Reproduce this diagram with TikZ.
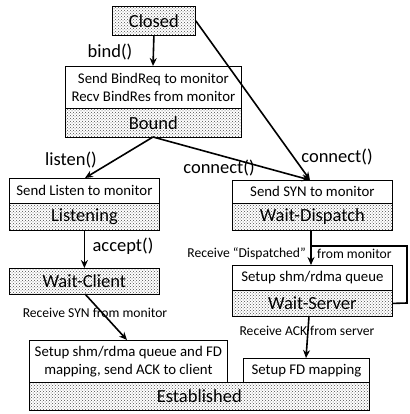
\documentclass[tikz,border=0pt]{standalone}
\usepackage{fontspec}
\setmainfont{Carlito}
\usetikzlibrary{arrows.meta,patterns}
\begin{document}
\begin{tikzpicture}[x=1pt,y=-1pt,
  box/.style={draw=black,line width=0.8pt,rectangle,inner sep=0pt,anchor=north west,align=center},
  txtbox/.style={box,fill=white,font=\fontsize{14.8}{17.5}\selectfont},
  statebox/.style={box,pattern=crosshatch dots,pattern color=black!70,font=\fontsize{18.5}{21}\selectfont},
  arr/.style={line width=1.6pt,-{Stealth[length=8pt,width=7pt]}},
  lnk/.style={line width=1.6pt},
  lbl/.style={font=\fontsize{18.5}{21}\selectfont,inner sep=0pt},
  slbl/.style={font=\fontsize{13.6}{16}\selectfont,inner sep=0pt}]
\useasboundingbox (0,0) rectangle (409,414);
% Closed
\node[statebox,minimum width=83pt,minimum height=29pt] (closed) at (112,6) {Closed};
% Bind box
\node[txtbox,minimum width=176pt,minimum height=42pt] (bindtxt) at (65,66) {Send BindReq to monitor\\Recv BindRes from monitor};
\node[statebox,minimum width=176pt,minimum height=29pt] (bound) at (65,108) {Bound};
% Listen box
\node[txtbox,minimum width=150pt,minimum height=25pt] (listentxt) at (9,178) {Send Listen to monitor};
\node[statebox,minimum width=150pt,minimum height=27pt] (listening) at (9,203) {Listening};
% Wait-Client
\node[statebox,minimum width=150pt,minimum height=26pt] (waitclient) at (9,268) {Wait-Client};
% SYN box
\node[txtbox,minimum width=160pt,minimum height=23pt] (syntxt) at (232,180) {Send SYN to monitor};
\node[statebox,minimum width=160pt,minimum height=27pt] (waitdispatch) at (232,203) {Wait-Dispatch};
% shm box
\node[txtbox,minimum width=160pt,minimum height=25pt] (shmtxt) at (232,265) {Setup shm/rdma queue};
\node[statebox,minimum width=160pt,minimum height=26pt] (waitserver) at (232,290) {Wait-Server};
% Established
\node[txtbox,minimum width=198pt,minimum height=42pt] (setupl) at (29,340) {Setup shm/rdma queue and FD\\mapping, send ACK to client};
\node[txtbox,minimum width=126pt,minimum height=24pt] (setupr) at (243,358) {Setup FD mapping};
\node[statebox,minimum width=340pt,minimum height=28pt] (established) at (29,382) {Established};
% coordinates
\coordinate (bindtop) at (153,66);
\coordinate (syntop) at (310,180);
\coordinate (listentop) at (85,178);
\coordinate (boundbot) at (153,137);
\coordinate (wdbot) at (311,230);
\coordinate (shmtop) at (311,265);
\coordinate (branch) at (311,246);
\coordinate (loopa) at (407,246);
\coordinate (loopb) at (407,303);
\coordinate (wsbot) at (309,316);
\coordinate (srtop) at (306,358);
\coordinate (wcbot) at (85,294);
\coordinate (sltop) at (127,340);
% arrows
\draw[arr] (closed.south) -- (bindtop);
\draw[arr] (closed.east) -- (syntop);
\draw[arr] (boundbot) -- (listentop);
\draw[arr] (boundbot) -- (syntop);
\draw[arr] (listening.south) -- (waitclient.north);
\draw[arr] (wdbot) -- (shmtop);
\draw[lnk] (branch) -- (loopa) -- (loopb) -- (waitserver.east);
\draw[arr] (wsbot) -- (srtop);
\draw[arr] (wcbot) -- (sltop);
% labels
\node[lbl] (lbind) at (110,52) {bind()};
\node[lbl] (llisten) at (71,160) {listen()};
\node[lbl] (lconnl) at (219,168) {connect()};
\node[lbl] (lconnr) at (337,157) {connect()};
\node[lbl] (laccept) at (123,246) {accept()};
\node[slbl] (lrsyn) at (95,313) {Receive SYN from monitor};
\node[slbl,anchor=east] (lrdisp) at (306,254) {Receive “Dispatched”};
\node[slbl,anchor=west] (lfrom) at (317,254) {from monitor};
\node[slbl] (lrack) at (307,331) {Receive ACK from server};
\end{tikzpicture}
\end{document}
